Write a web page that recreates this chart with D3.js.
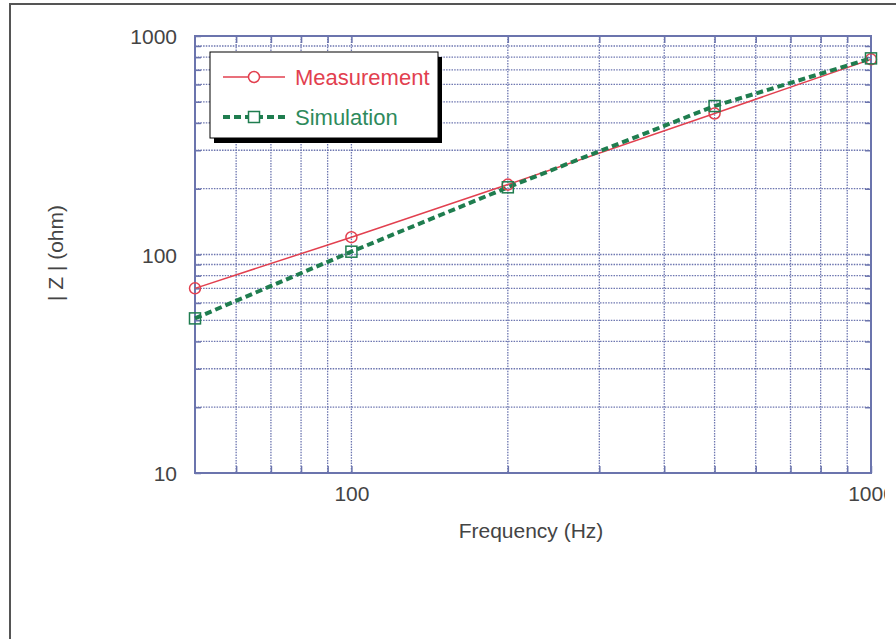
<!DOCTYPE html>
<html>
<head>
<meta charset="utf-8">
<script src="https://cdn.jsdelivr.net/npm/d3@7"></script>
<style>
  body { margin: 0; background: #fff; }
  svg { display: block; font-family: "Liberation Sans", Arial, sans-serif; }
  .tick text { fill: #444; font-size: 21px; }
  .axis-label { fill: #444; font-size: 21px; }
</style>
</head>
<body>
<svg id="chart" width="896" height="639"></svg>
<script>
var freq = [50, 100, 200, 500, 1000];
var measurement = [70, 120, 209, 442, 782];
var simulation = [51, 103, 203, 478, 790];
var xGrid = [60, 70, 80, 90, 100, 200, 300, 400, 500, 600, 700, 800, 900];
var yGrid = [20, 30, 40, 50, 60, 70, 80, 90, 100, 200, 300, 400, 500, 600, 700, 800, 900];
var xTickLabels = [100, 1000];
var yTickLabels = [10, 100, 1000];

var PLOT = {left: 195, right: 871, top: 36, bottom: 473};
var FRAME = '#6b74ad';
var RED = '#e2404f';
var GREEN = '#1f7d4f';

var svg = d3.select('#chart');

// outer frame, only left and top edges show
svg.append('path')
    .attr('d', 'M10,639V4H896')
    .attr('fill', 'none').attr('stroke', '#555').attr('stroke-width', 2);

svg.append('clipPath').attr('id', 'imgclip')
    .append('rect').attr('x', 0).attr('y', 0).attr('width', 885).attr('height', 639);

var x = d3.scaleLog().domain([50, 1000]).range([PLOT.left, PLOT.right]);
var y = d3.scaleLog().domain([10, 1000]).range([PLOT.bottom, PLOT.top]);

var g = svg.append('g').attr('clip-path', 'url(#imgclip)');

// grid
g.append('g').selectAll('line').data(xGrid).join('line')
    .attr('x1', function(d) { return x(d); }).attr('x2', function(d) { return x(d); })
    .attr('y1', PLOT.top).attr('y2', PLOT.bottom)
    .attr('stroke', '#6d76b0').attr('stroke-width', 1.3).attr('stroke-dasharray', '1.5,1.2');
g.append('g').selectAll('line').data(yGrid).join('line')
    .attr('y1', function(d) { return y(d); }).attr('y2', function(d) { return y(d); })
    .attr('x1', PLOT.left).attr('x2', PLOT.right)
    .attr('stroke', '#6d76b0').attr('stroke-width', 1.3).attr('stroke-dasharray', '1.5,1.2');

function labelFmt(list) {
    return function(d) { return list.indexOf(d) >= 0 ? String(d) : ''; };
}

var xAxis = d3.axisBottom(x).tickValues(xGrid.concat([1000]))
    .tickSizeInner(-7).tickSizeOuter(0).tickPadding(13).tickFormat(labelFmt(xTickLabels));
var yAxis = d3.axisLeft(y).tickValues(yGrid.concat([10, 1000]))
    .tickSizeInner(-6).tickSizeOuter(0).tickPadding(18).tickFormat(labelFmt(yTickLabels));

var xa = g.append('g').attr('transform', 'translate(0,' + PLOT.bottom + ')').call(xAxis);
var ya = g.append('g').attr('transform', 'translate(' + PLOT.left + ',0)').call(yAxis);
g.append('g').attr('transform', 'translate(0,' + PLOT.top + ')')
    .call(d3.axisTop(x).tickValues(xGrid).tickSizeInner(-7).tickSizeOuter(0).tickFormat(''));
g.append('g').attr('transform', 'translate(' + PLOT.right + ',0)')
    .call(d3.axisRight(y).tickValues(yGrid).tickSizeInner(-6).tickSizeOuter(0).tickFormat(''));

g.selectAll('.domain').remove();
g.selectAll('.tick line').attr('stroke', FRAME).attr('stroke-width', 1.5);
ya.selectAll('.tick text').attr('dy', '0.36em');

g.append('rect')
    .attr('x', PLOT.left).attr('y', PLOT.top)
    .attr('width', PLOT.right - PLOT.left).attr('height', PLOT.bottom - PLOT.top)
    .attr('fill', 'none').attr('stroke', FRAME).attr('stroke-width', 2);

// curves
var line = d3.line()
    .x(function(d) { return x(d[0]); })
    .y(function(d) { return y(d[1]); });

var measPts = d3.zip(freq, measurement);
var simPts = d3.zip(freq, simulation);

g.append('path').datum(measPts).attr('d', line)
    .attr('fill', 'none').attr('stroke', RED).attr('stroke-width', 1.5);
g.append('path').datum(simPts).attr('d', line)
    .attr('fill', 'none').attr('stroke', GREEN).attr('stroke-width', 4).attr('stroke-dasharray', '7,4');

g.append('g').selectAll('circle').data(measPts).join('circle')
    .attr('cx', function(d) { return x(d[0]); }).attr('cy', function(d) { return y(d[1]); })
    .attr('r', 5.5).attr('fill', 'none').attr('stroke', RED).attr('stroke-width', 1.5);
g.append('g').selectAll('rect').data(simPts).join('rect')
    .attr('x', function(d) { return x(d[0]) - 5.5; }).attr('y', function(d) { return y(d[1]) - 5.5; })
    .attr('width', 11).attr('height', 11)
    .attr('fill', 'none').attr('stroke', GREEN).attr('stroke-width', 1.5);

// legend
var lg = svg.append('g');
lg.append('rect').attr('x', 214).attr('y', 57).attr('width', 228).attr('height', 86).attr('fill', '#000');
lg.append('rect').attr('x', 210).attr('y', 52).attr('width', 228).attr('height', 86)
    .attr('fill', '#fff').attr('stroke', '#000').attr('stroke-width', 1);

lg.append('line').attr('x1', 223).attr('x2', 285).attr('y1', 77).attr('y2', 77)
    .attr('stroke', RED).attr('stroke-width', 1.5);
lg.append('circle').attr('cx', 254).attr('cy', 77).attr('r', 5.5)
    .attr('fill', '#fff').attr('stroke', RED).attr('stroke-width', 1.5);
lg.append('text').attr('x', 295).attr('y', 77).attr('dy', '0.36em')
    .attr('fill', RED).attr('font-size', 22).text('Measurement');

lg.append('line').attr('x1', 223).attr('x2', 285).attr('y1', 117).attr('y2', 117)
    .attr('stroke', GREEN).attr('stroke-width', 4).attr('stroke-dasharray', '7,4');
lg.append('rect').attr('x', 248.5).attr('y', 111.5).attr('width', 11).attr('height', 11)
    .attr('fill', '#fff').attr('stroke', GREEN).attr('stroke-width', 1.5);
lg.append('text').attr('x', 295).attr('y', 117).attr('dy', '0.36em')
    .attr('fill', '#2e8a5c').attr('font-size', 22).text('Simulation');

// axis titles
svg.append('text').attr('class', 'axis-label')
    .attr('x', 531).attr('y', 538).attr('text-anchor', 'middle')
    .text('Frequency (Hz)');
svg.append('text').attr('class', 'axis-label')
    .attr('transform', 'translate(63,253) rotate(-90)')
    .attr('text-anchor', 'middle')
    .text('| Z | (ohm)');
</script>
</body>
</html>
